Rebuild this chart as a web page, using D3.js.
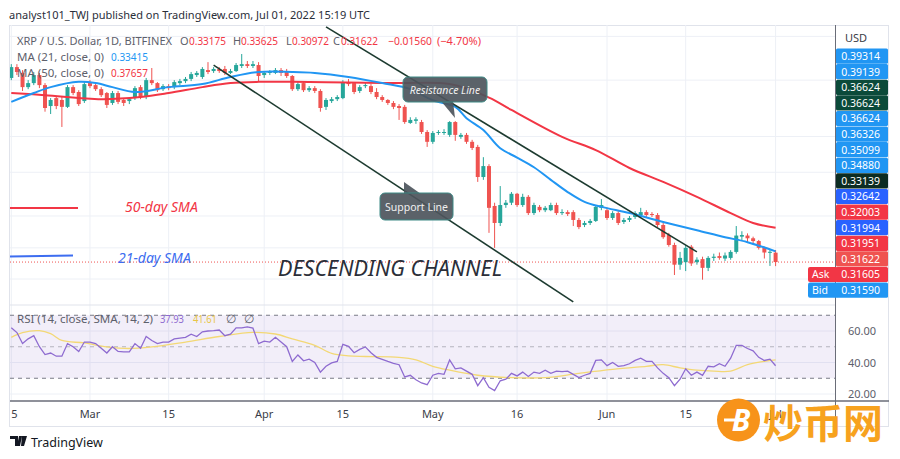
<!DOCTYPE html>
<html>
<head>
<meta charset="utf-8">
<script src="https://d3js.org/d3.v7.min.js"></script>
<style>
body{margin:0;background:#fff;}
svg{display:block;font-family:"Noto Sans",sans-serif;}
</style>
</head>
<body>
<svg id="chart" width="900" height="459"></svg>
<script>
// ---- data (XRP/USD daily, Bitfinex) ----
var startDay = '2022-02-15';
var opens = [0.809,0.855,0.830,0.772,0.788,0.821,0.780,0.701,0.730,0.723,0.698,0.772,0.753,0.719,
  0.788,0.780,0.764,0.749,0.712,0.749,0.723,0.719,0.730,0.772,0.734,0.800,0.788,0.764,0.776,0.772,
  0.788,0.796,0.805,0.821,0.813,0.842,0.838,0.847,0.847,0.830,0.838,0.860,0.868,0.860,0.864,
  0.821,0.830,0.830,0.842,0.838,0.817,0.764,0.788,0.760,0.768,0.757,0.698,0.719,0.726,0.730,
  0.792,0.788,0.757,0.776,0.776,0.753,0.734,0.723,0.712,0.701,0.698,0.643,0.650,0.646,0.614,
  0.584,0.611,0.611,0.605,0.646,0.599,0.605,0.584,0.569,0.488,0.516,0.421,0.386,0.423,0.428,
  0.448,0.423,0.441,0.406,0.419,0.412,0.412,0.423,0.406,0.408,0.408,0.392,0.382,0.386,0.390,0.417,
  0.412,0.396,0.406,0.388,0.392,0.398,0.402,0.408,0.404,0.402,0.382,0.363,0.345,0.312,0.316,
  0.342,0.316,0.321,0.307,0.323,0.326,0.322,0.323,0.333,0.360,0.362,0.357,0.352,0.340,0.3315,0.33175];
var highs = [0.868,0.868,0.842,0.800,0.834,0.830,0.788,0.730,0.734,0.734,0.780,0.780,0.760,0.792,
  0.800,0.788,0.772,0.753,0.757,0.757,0.730,0.734,0.776,0.780,0.809,0.851,0.792,0.784,0.784,0.800,
  0.805,0.813,0.834,0.838,0.855,0.877,0.855,0.855,0.860,0.847,0.873,0.914,0.882,0.882,0.877,
  0.838,0.842,0.851,0.851,0.847,0.821,0.792,0.796,0.776,0.776,0.764,0.730,0.734,0.741,0.800,
  0.805,0.792,0.780,0.792,0.784,0.768,0.741,0.726,0.719,0.708,0.705,0.662,0.662,0.653,0.620,
  0.617,0.620,0.623,0.649,0.649,0.611,0.611,0.590,0.575,0.540,0.521,0.428,0.466,0.434,0.452,
  0.450,0.448,0.445,0.428,0.423,0.421,0.428,0.428,0.414,0.412,0.412,0.396,0.390,0.394,0.423,0.436,
  0.417,0.410,0.410,0.396,0.400,0.410,0.417,0.412,0.408,0.406,0.386,0.367,0.349,0.333,0.345,
  0.345,0.324,0.325,0.326,0.330,0.332,0.332,0.336,0.380,0.370,0.366,0.360,0.354,0.342,0.338,0.33625];
var lows = [0.800,0.821,0.757,0.764,0.780,0.768,0.681,0.673,0.690,0.630,0.694,0.741,0.701,0.712,
  0.768,0.757,0.734,0.694,0.705,0.708,0.701,0.708,0.723,0.726,0.726,0.780,0.753,0.757,0.760,0.764,
  0.780,0.788,0.796,0.813,0.805,0.825,0.830,0.830,0.821,0.825,0.834,0.851,0.851,0.851,0.792,
  0.809,0.821,0.825,0.817,0.809,0.757,0.757,0.753,0.753,0.749,0.681,0.687,0.712,0.719,0.726,
  0.776,0.745,0.749,0.768,0.745,0.726,0.716,0.705,0.690,0.653,0.640,0.640,0.640,0.608,0.569,
  0.578,0.605,0.605,0.599,0.587,0.593,0.578,0.560,0.476,0.481,0.367,0.340,0.380,0.417,0.423,
  0.419,0.419,0.402,0.402,0.408,0.408,0.410,0.402,0.402,0.400,0.380,0.374,0.378,0.382,0.388,0.412,
  0.392,0.392,0.382,0.384,0.388,0.394,0.396,0.398,0.398,0.378,0.356,0.342,0.296,0.304,0.302,
  0.310,0.312,0.289,0.302,0.318,0.320,0.318,0.320,0.330,0.352,0.350,0.345,0.337,0.322,0.310,0.30972];
var closes = [0.855,0.834,0.772,0.788,0.821,0.780,0.694,0.723,0.701,0.698,0.772,0.749,0.708,0.784,
  0.776,0.764,0.741,0.705,0.749,0.716,0.712,0.726,0.768,0.734,0.800,0.788,0.760,0.776,0.768,0.792,
  0.796,0.805,0.825,0.830,0.847,0.834,0.847,0.838,0.830,0.838,0.864,0.868,0.860,0.868,0.817,
  0.830,0.834,0.842,0.830,0.817,0.764,0.784,0.760,0.768,0.757,0.694,0.723,0.726,0.734,0.792,
  0.784,0.753,0.772,0.780,0.753,0.734,0.723,0.712,0.698,0.694,0.646,0.653,0.655,0.614,0.584,
  0.611,0.614,0.614,0.646,0.605,0.605,0.584,0.566,0.488,0.516,0.417,0.386,0.423,0.428,0.448,
  0.423,0.441,0.406,0.423,0.412,0.417,0.423,0.406,0.408,0.404,0.392,0.378,0.386,0.390,0.419,0.423,
  0.396,0.406,0.386,0.392,0.396,0.406,0.408,0.402,0.402,0.382,0.359,0.345,0.312,0.323,0.340,
  0.314,0.320,0.307,0.323,0.325,0.323,0.327,0.333,0.362,0.363,0.357,0.352,0.340,0.332,0.3332,0.31622];

// moving averages, sampled (day index from startDay -> value)
var ma21Days = [0,4,7,12,15,18,22,28,34,39,44,50,54,60,66,71,75,79,81,84,87,90,93,96,99,102,105,110,116,122,127,131,136];
var ma21Values = [0.716,0.749,0.772,0.793,0.788,0.772,0.753,0.772,0.784,0.813,0.834,0.834,0.830,0.813,0.788,0.764,
  0.722,0.698,0.659,0.620,0.565,0.539,0.513,0.481,0.452,0.430,0.419,0.406,0.388,0.372,0.359,0.350,0.334];
var ma50Days = [0,6,16,23,28,34,39,44,50,60,69,78,85,89,98,104,110,116,122,128,132,136];
var ma50Values = [0.749,0.741,0.726,0.734,0.749,0.772,0.788,0.793,0.793,0.790,0.788,0.784,0.732,0.687,
  0.599,0.560,0.511,0.476,0.441,0.406,0.386,0.3766];

// RSI(14), one value per day, and its SMA sampled
var rsiValues = [62,59,52,55,57,50,45,46,44,44,52,50,47,53,53,52,49,46,50,47,46.8,46.8,52,49,56.5,54,52,53,53,55,
  55.5,56,58,56.5,59.5,60,60.2,60.6,57,58,62,62,62.6,61.8,52,53.6,53,56,53,50,40.7,44.8,41.1,42.1,40,
  33.9,37.6,39.7,40.7,51.5,50.3,46.2,48.3,49.9,46.2,43.3,42,40.7,39.5,38.6,30.8,31.9,29,27,25.9,31.9,
  33.1,32.5,41.7,36,36.6,34.5,32.5,25.3,30.4,24.3,22.2,28.4,29.4,33.1,31.5,33.9,31.1,33.9,33.1,35.1,
  33.1,34.5,34.2,34.5,32.5,30.4,31.9,33.1,41.3,41.7,38,40,37.6,38,39.2,41.3,42.7,40.7,40.7,36.6,33.1,
  30.4,25.3,29.4,36,31.9,33.9,31.9,37.6,37.2,39.2,37.6,42.7,50.9,50.9,48.9,47.4,43.3,41.3,42.1,37.93];
var rsiMaDays = [0,2,5,7,9,13,17,21,25,31,37,43,47,50,54,57,60,63,69,72,75,78,83,89,95,101,107,113,116,119,122,125,128,131,134,136];
var rsiMaValues = [56,59,60.2,58.3,54,52.4,49.9,48.9,49.9,53,56.5,59.1,58.1,55,50.9,45.8,44.2,43.8,43.3,41.7,
  37.6,35.1,31.9,30.4,30.4,33.1,35.6,37.6,38.6,36.6,35.1,34.5,34.5,38.6,40.7,41.61];

// axis labels
var timeTicks = ['2022-02-15','2022-03-01','2022-03-15','2022-04-01','2022-04-15','2022-05-01','2022-05-16','2022-06-01','2022-06-15','2022-07-01'];
var timeLabels = ['15','Mar','15','Apr','15','May','16','Jun','15','Jul'];
var priceGrid = [1.00,0.80,0.60,0.50,0.40,0.34,0.29];
var rsiTicks = [60,40,20];
var badgeValues = ['0.39314','0.39139','0.36624','0.36624','0.36624','0.36326','0.35099','0.34880','0.33139','0.32642','0.32003','0.31994','0.31951','0.31622','0.31605','0.31590'];
var badgeColors = ['#2196f3','#2196f3','#0b4a3a','#0b4a3a','#2196f3','#2196f3','#2196f3','#2196f3','#0c2c22','#2962ff','#f23645','#2962ff','#f23645','#ef5350','#f23645','#2196f3'];

// drawings (date, price)
var resistanceLine = [['2022-04-12',1.05],['2022-06-17',0.333]];
var supportLine = [['2022-03-23',0.864],['2022-05-26',0.258]];

var lastClose = 0.31622;
var GREEN = '#26a69a', RED = '#ef5350';
var GREY = '#5d606b';

// ---- layout ----
var L = 10, R = 835, TOP = 25, PRICE_BOTTOM = 305, RSI_BOTTOM = 401;

var parse = d3.utcParse('%Y-%m-%d');
var t0 = parse(startDay);
var dayOf = function(i){ return d3.utcDay.offset(t0, i); };

var x = d3.scaleUtc().domain([parse('2022-02-15'), parse('2022-07-01')]).range([11.3, 775.6]);
var y = d3.scaleLog().domain([0.2553, 1.0599]).range([304, 25]);
var yRsi = d3.scaleLinear().domain([20, 60]).range([394, 331]);

var svg = d3.select('#chart');
var defs = svg.append('defs');
defs.append('clipPath').attr('id','clipPrice').append('rect')
  .attr('x', L).attr('y', TOP).attr('width', R-L).attr('height', PRICE_BOTTOM-TOP);
defs.append('clipPath').attr('id','clipRsi').append('rect')
  .attr('x', L).attr('y', PRICE_BOTTOM).attr('width', R-L).attr('height', RSI_BOTTOM-PRICE_BOTTOM);
defs.append('clipPath').attr('id','clipTime').append('rect')
  .attr('x', L).attr('y', RSI_BOTTOM).attr('width', R-L).attr('height', 26);

// header
svg.append('text').attr('x', 9).attr('y', 19)
  .attr('font-size', 11.5).attr('fill', '#2a2e39')
  .attr('textLength', 361).attr('lengthAdjust', 'spacingAndGlyphs')
  .text('analyst101_TWJ published on TradingView.com, Jul 01, 2022 15:19 UTC');

// frame
svg.append('rect').attr('x', 9.5).attr('y', 25.5).attr('width', 879).attr('height', 401)
  .attr('fill', 'none').attr('stroke', '#e0e3eb');

// grid
var grid = svg.append('g');
grid.selectAll('line.v').data(timeTicks).enter().append('line')
  .attr('x1', function(d){ return x(parse(d)); }).attr('x2', function(d){ return x(parse(d)); })
  .attr('y1', TOP).attr('y2', RSI_BOTTOM)
  .attr('stroke', '#edf0f6');
grid.selectAll('line.h').data(priceGrid).enter().append('line')
  .attr('x1', L).attr('x2', R)
  .attr('y1', function(d){ return y(d); }).attr('y2', function(d){ return y(d); })
  .attr('stroke', '#edf0f6');
grid.selectAll('line.r').data(rsiTicks).enter().append('line')
  .attr('x1', L).attr('x2', R)
  .attr('y1', function(d){ return yRsi(d); }).attr('y2', function(d){ return yRsi(d); })
  .attr('stroke', '#edf0f6');
// pane separator
svg.append('line').attr('x1', L).attr('x2', R).attr('y1', PRICE_BOTTOM).attr('y2', PRICE_BOTTOM)
  .attr('stroke', '#e0e3eb');

// ---- price pane ----
var price = svg.append('g').attr('clip-path', 'url(#clipPrice)');

var candles = opens.map(function(o, i){
  return {t: dayOf(i), o: o, h: highs[i], l: lows[i], c: closes[i]};
});

price.append('line').attr('x1', L).attr('x2', R)
  .attr('y1', y(lastClose)).attr('y2', y(lastClose))
  .attr('stroke', RED).attr('stroke-dasharray', '1,2');

var cg = price.selectAll('g.candle').data(candles).enter().append('g');
cg.append('line')
  .attr('x1', function(d){ return x(d.t); }).attr('x2', function(d){ return x(d.t); })
  .attr('y1', function(d){ return y(d.h); }).attr('y2', function(d){ return y(d.l); })
  .attr('stroke', function(d){ return d.c >= d.o ? GREEN : RED; });
cg.append('rect')
  .attr('x', function(d){ return x(d.t) - 2; })
  .attr('width', 4)
  .attr('y', function(d){ return y(Math.max(d.o, d.c)); })
  .attr('height', function(d){ return Math.max(1, Math.abs(y(d.o) - y(d.c))); })
  .attr('fill', function(d){ return d.c >= d.o ? GREEN : RED; });

var maLine = d3.line().curve(d3.curveCatmullRom.alpha(0.5))
  .x(function(d){ return x(dayOf(d[0])); }).y(function(d){ return y(d[1]); });
price.append('path').datum(d3.zip(ma50Days, ma50Values)).attr('d', maLine)
  .attr('fill', 'none').attr('stroke', '#f23645').attr('stroke-width', 2);
price.append('path').datum(d3.zip(ma21Days, ma21Values)).attr('d', maLine)
  .attr('fill', 'none').attr('stroke', '#2196f3').attr('stroke-width', 2);

// trend lines
[resistanceLine, supportLine].forEach(function(seg){
  price.append('line')
    .attr('x1', x(parse(seg[0][0]))).attr('y1', y(seg[0][1]))
    .attr('x2', x(parse(seg[1][0]))).attr('y2', y(seg[1][1]))
    .attr('stroke', '#1d3b30').attr('stroke-width', 1.6);
});

// callouts
function callout(bx, by, bw, bh, tail, label, italic){
  var g = svg.append('g');
  g.append('path').attr('d', 'M' + tail.join('L') + 'Z')
    .attr('fill', '#4d555c').attr('fill-opacity', 0.92);
  g.append('rect').attr('x', bx).attr('y', by).attr('width', bw).attr('height', bh).attr('rx', 5)
    .attr('fill', '#4d555c').attr('fill-opacity', 0.92).attr('stroke', '#3f8a86').attr('stroke-width', 1);
  g.append('text').attr('x', bx + bw/2).attr('y', by + bh/2 + 4)
    .attr('text-anchor', 'middle').attr('font-size', 10.5).attr('fill', '#f0f0f0')
    .attr('font-style', italic ? 'italic' : 'normal').text(label);
}
callout(403, 77, 84, 25, [[441,101],[453,101],[455,118]], 'Resistance Line', true);
callout(380, 193, 73, 27, [[404,194],[421,194],[404,182]], 'Support Line', false);

// SMA annotations
svg.append('line').attr('x1', 10).attr('x2', 78).attr('y1', 208).attr('y2', 208)
  .attr('stroke', '#f23645').attr('stroke-width', 2);
svg.append('text').attr('x', 125).attr('y', 212).attr('font-size', 14).attr('font-style', 'italic')
  .attr('fill', '#f23645').text('50-day SMA');
svg.append('line').attr('x1', 10).attr('x2', 73).attr('y1', 256.5).attr('y2', 255.5)
  .attr('stroke', '#3d6df0').attr('stroke-width', 2);
svg.append('text').attr('x', 118).attr('y', 263).attr('font-size', 14).attr('font-style', 'italic')
  .attr('fill', '#3d6df0').text('21-day SMA');
svg.append('text').attr('x', 278).attr('y', 276).attr('font-size', 21).attr('font-style', 'italic')
  .attr('fill', '#2a2e39').attr('textLength', 224).attr('lengthAdjust', 'spacingAndGlyphs')
  .text('DESCENDING CHANNEL');

// legend: [text, x, colour, width] per piece
function legendLine(yy, size, parts){
  parts.forEach(function(p){
    var t = svg.append('text').attr('x', p[1]).attr('y', yy).attr('font-size', size)
      .attr('fill', p[2] || GREY).text(p[0]);
    if (p[3]) t.attr('textLength', p[3]).attr('lengthAdjust', 'spacingAndGlyphs');
  });
}
legendLine(45, 11, [['XRP / U.S. Dollar, 1D, BITFINEX', 17, null, 155], ['O', 180], ['0.33175', 189, '#f23645', 37],
  ['H', 233], ['0.33625', 241, '#f23645', 37], ['L', 286], ['0.30972', 292, '#f23645', 37],
  ['C', 333], ['0.31622', 341, '#f23645', 37], ['\u22120.01560', 388, '#f23645', 44], ['(\u22124.70%)', 437, '#f23645', 44]]);
legendLine(61, 11.5, [['MA (21, close, 0)', 17], ['0.33415', 111, '#2196f3', 37]]);
legendLine(77, 11.5, [['MA (50, close, 0)', 17], ['0.37657', 111, '#f23645', 37]]);

// ---- RSI pane ----
var rsi = svg.append('g').attr('clip-path', 'url(#clipRsi)');
rsi.append('rect').attr('x', L).attr('width', R-L)
  .attr('y', yRsi(70)).attr('height', yRsi(30) - yRsi(70))
  .attr('fill', '#7e57c2').attr('fill-opacity', 0.1);
[70, 50, 30].forEach(function(v){
  rsi.append('line').attr('x1', L).attr('x2', R).attr('y1', yRsi(v)).attr('y2', yRsi(v))
    .attr('stroke', '#787b86').attr('stroke-opacity', v === 50 ? 0.5 : 1)
    .attr('stroke-dasharray', '4,4');
});
rsi.append('path').datum(d3.zip(rsiMaDays, rsiMaValues))
  .attr('d', d3.line().curve(d3.curveCatmullRom.alpha(0.5))
    .x(function(d){ return x(dayOf(d[0])); }).y(function(d){ return yRsi(d[1]); }))
  .attr('fill', 'none').attr('stroke', '#f3d875').attr('stroke-width', 1.3);
rsi.append('path').datum(rsiValues)
  .attr('d', d3.line().x(function(d, i){ return x(dayOf(i)); }).y(function(d){ return yRsi(d); }))
  .attr('fill', 'none').attr('stroke', '#8e6bd0').attr('stroke-width', 1.3);

legendLine(323, 11.5, [['RSI (14, close, SMA, 14, 2)', 17], ['37.93', 160, '#8e6bd0', 24], ['41.61', 193, '#e8c547', 24],
  ['\u2205', 226], ['\u2205', 244]]);

// ---- axes ----
svg.append('line').attr('x1', R + 0.5).attr('x2', R + 0.5).attr('y1', TOP).attr('y2', 427)
  .attr('stroke', '#6a6d78');
svg.append('line').attr('x1', L).attr('x2', 889).attr('y1', RSI_BOTTOM).attr('y2', RSI_BOTTOM)
  .attr('stroke', '#6a6d78').attr('stroke-width', 1.5);

svg.append('g').attr('clip-path', 'url(#clipTime)')
  .selectAll('text').data(timeTicks).enter().append('text')
  .attr('x', function(d){ return x(parse(d)); }).attr('y', 418)
  .attr('text-anchor', 'middle').attr('font-size', 11).attr('fill', '#3a3d47')
  .text(function(d, i){ return timeLabels[i]; });

svg.selectAll('text.rt').data(rsiTicks).enter().append('text')
  .attr('x', 862).attr('y', function(d){ return yRsi(d) + 4; })
  .attr('text-anchor', 'middle').attr('font-size', 11).attr('fill', GREY)
  .text(function(d){ return d.toFixed(2); });

svg.append('text').attr('x', 845).attr('y', 42).attr('font-size', 11).attr('fill', '#3a3d47').text('USD');

// price badges (stacked by the axis)
var bh = 15.6, by0 = 48.5;
var badges = svg.append('g');
badges.selectAll('rect').data(badgeValues).enter().append('rect')
  .attr('x', 836).attr('y', function(d, i){ return by0 + i*bh; })
  .attr('width', 52).attr('height', bh - 0.4).attr('rx', 1.5)
  .attr('fill', function(d, i){ return badgeColors[i]; });
badges.selectAll('text').data(badgeValues).enter().append('text')
  .attr('x', 880).attr('y', function(d, i){ return by0 + i*bh + 11.5; })
  .attr('text-anchor', 'end').attr('font-size', 10.5).attr('fill', '#fff')
  .text(function(d){ return d; });
[['Ask', 14, '#f23645'], ['Bid', 15, '#2196f3']].forEach(function(b){
  svg.append('rect').attr('x', 808).attr('y', by0 + b[1]*bh).attr('width', 30).attr('height', bh - 0.4)
    .attr('rx', 2).attr('fill', b[2]);
  svg.append('text').attr('x', 812).attr('y', by0 + b[1]*bh + 11.5).attr('font-size', 10.5)
    .attr('fill', '#fff').text(b[0]);
});

// TradingView footer
var tv = svg.append('g').attr('transform', 'translate(10,436)');
tv.append('path').attr('d', 'M0,0H8V10H5V3H0Z M9,0H12L10,10H7Z M12,0H17L14,10H11Z').attr('fill', '#131722');
svg.append('text').attr('x', 31).attr('y', 447).attr('font-size', 12.5).attr('fill', '#131722').text('TradingView');

// watermark
var wm = svg.append('g');
wm.append('circle').attr('cx', 738.5).attr('cy', 420).attr('r', 21.5).attr('fill', '#f7931a');
wm.append('text').attr('x', 741).attr('y', 431).attr('text-anchor', 'middle')
  .attr('font-size', 30).attr('font-weight', 'bold').attr('font-style', 'italic')
  .attr('fill', '#fff').text('B');
wm.append('line').attr('x1', 724).attr('x2', 735).attr('y1', 420).attr('y2', 420)
  .attr('stroke', '#fff').attr('stroke-width', 3);
wm.append('text').attr('x', 763).attr('y', 438).attr('font-size', 40)
  .attr('font-family', '"Noto Sans CJK SC"').attr('font-weight', 'bold')
  .attr('fill', '#f7a21e').text('炒币网');
</script>
</body>
</html>
